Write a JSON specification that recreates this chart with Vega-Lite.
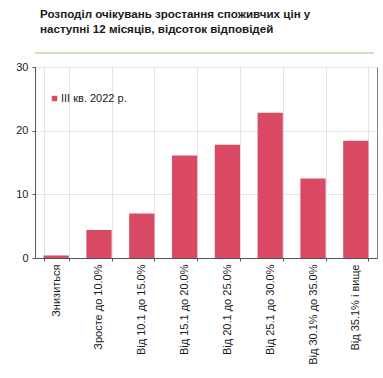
{
  "$schema": "https://vega.github.io/schema/vega-lite/v6.json",
  "autosize": {"type": "none"},
  "width": 342,
  "height": 191,
  "padding": {"left": 35, "top": 67, "right": 6, "bottom": 120},
  "background": "white",
  "config": {
    "font": "Liberation Sans",
    "view": {"stroke": "#808080", "strokeWidth": 1}
  },
  "title": {
    "text": ["Розподіл очікувань зростання споживчих цін у", "наступні 12 місяців, відсоток відповідей"],
    "anchor": "start",
    "frame": "group",
    "fontSize": 11.6,
    "fontWeight": "bold",
    "font": "Liberation Sans",
    "color": "#1a1a1a",
    "lineHeight": 15,
    "offset": 17,
    "dx": 5
  },
  "data": {
    "values": [
      {"cat": "Знизиться", "value": 0.4, "series": "III кв. 2022 р."},
      {"cat": "Зросте до 10.0%", "value": 4.4, "series": "III кв. 2022 р."},
      {"cat": "Від 10.1 до 15.0%", "value": 7.0, "series": "III кв. 2022 р."},
      {"cat": "Від 15.1 до 20.0%", "value": 16.1, "series": "III кв. 2022 р."},
      {"cat": "Від 20.1 до 25.0%", "value": 17.8, "series": "III кв. 2022 р."},
      {"cat": "Від 25.1 до 30.0%", "value": 22.8, "series": "III кв. 2022 р."},
      {"cat": "Від 30.1% до 35.0%", "value": 12.5, "series": "III кв. 2022 р."},
      {"cat": "Від 35.1% і вище", "value": 18.4, "series": "III кв. 2022 р."}
    ]
  },
  "layer": [
    {
      "mark": {"type": "bar"},
      "encoding": {
        "x": {
          "field": "cat",
          "type": "nominal",
          "sort": null,
          "scale": {"paddingInner": 0.41, "paddingOuter": 0.2},
          "axis": {
            "title": null,
            "labelAngle": -90,
            "labelFontSize": 11,
            "labelColor": "#1a1a1a",
            "labelPadding": 3,
            "tickBand": "extent",
            "tickSize": 3,
            "tickColor": "#555555",
            "domainColor": "#555555",
            "grid": true,
            "gridColor": "#e3e3e3"
          }
        },
        "y": {
          "field": "value",
          "type": "quantitative",
          "scale": {"domain": [0, 30]},
          "axis": {
            "title": null,
            "values": [0, 5, 10, 15, 20, 25, 30],
            "labelExpr": "datum.value % 10 == 0 ? datum.label : ''",
            "labelFontSize": 11,
            "labelColor": "#1a1a1a",
            "labelPadding": 4,
            "tickSize": 3,
            "tickColor": "#555555",
            "domainColor": "#555555",
            "gridColor": "#e3e3e3"
          }
        },
        "color": {
          "field": "series",
          "type": "nominal",
          "scale": {"range": ["#db4a65"]},
          "legend": {
            "title": null,
            "orient": "none",
            "legendX": 14,
            "legendY": 26,
            "symbolType": "square",
            "symbolSize": 30,
            "labelFontSize": 11,
            "labelColor": "#1a1a1a",
            "labelOffset": 1
          }
        }
      }
    },
    {
      "data": {"values": [{"y": 32.2}]},
      "mark": {"type": "rule", "color": "#b9dc9e", "strokeWidth": 1.5, "clip": false, "xOffset": -3, "x2Offset": -15},
      "encoding": {"y": {"field": "y", "type": "quantitative"}}
    }
  ]
}
